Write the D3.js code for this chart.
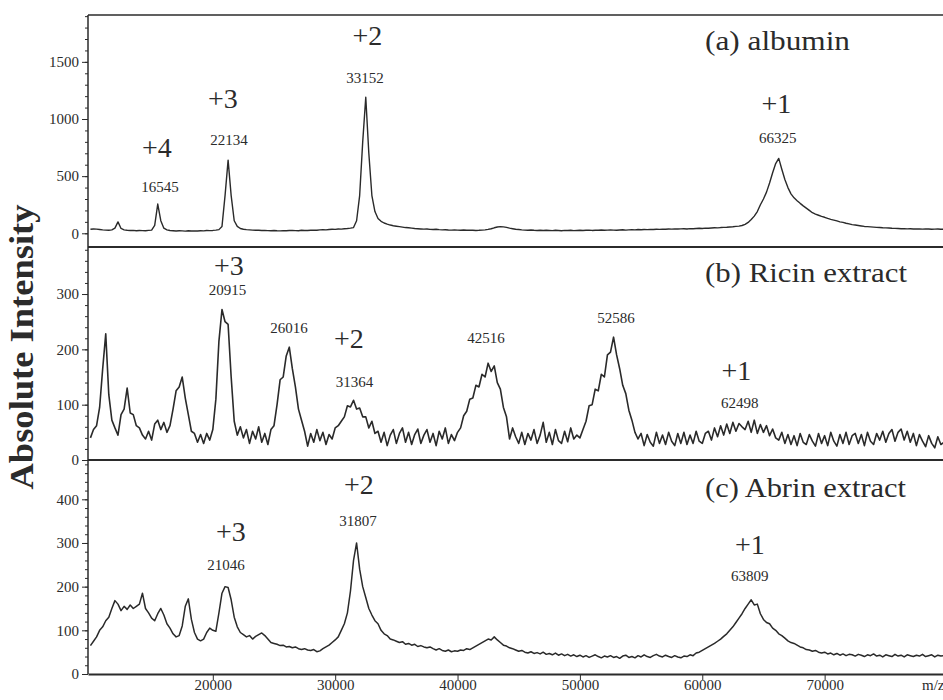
<!DOCTYPE html>
<html>
<head>
<meta charset="utf-8">
<script src="https://cdn.jsdelivr.net/npm/d3@7/dist/d3.min.js"></script>
<style>
  body { margin: 0; background: #fff; }
  svg { display: block; }
  text { font-family: "Liberation Serif", "Times New Roman", serif; fill: #2b2b2b; }
</style>
</head>
<body>
<svg id="chart"></svg>
<script>
// spectra sampled every 250 m/z starting at 10000
var mzStart = 10000, mzStep = 250;

var albumin = [
  35, 38, 36, 33, 30, 28, 27, 30, 45, 100,
  42, 30, 26, 24, 25, 22, 24, 23, 22, 25,
  28, 70, 256, 110, 45, 30, 24, 22, 20, 22,
  21, 19, 22, 20, 21, 20, 22, 21, 24, 23,
  25, 28, 32, 60, 330, 640, 330, 110, 60, 42,
  35, 32, 30, 28, 27, 26, 24, 25, 23, 22,
  24, 22, 21, 23, 22, 24, 25, 23, 22, 26,
  24, 25, 27, 28, 26, 30, 32, 30, 33, 35,
  34, 38, 36, 40, 42, 45, 50, 110, 330, 800,
  1190, 700, 330, 190, 130, 105, 90, 80, 72, 66,
  62, 58, 54, 50, 48, 45, 42, 40, 38, 36,
  37, 34, 33, 35, 32, 30, 31, 29, 28, 30,
  28, 27, 29, 26, 28, 27, 25, 26, 28, 30,
  34, 40, 48, 55, 58, 56, 52, 45, 40, 35,
  33, 30, 28, 27, 29, 26, 25, 27, 24, 26,
  25, 23, 26, 24, 22, 25, 24, 26, 23, 25,
  27, 24, 26, 28, 25, 27, 26, 29, 27, 28,
  30, 28, 27, 29, 31, 28, 30, 32, 30, 33,
  31, 33, 32, 34, 33, 35, 34, 36, 35, 37,
  36, 38, 37, 39, 40, 38, 41, 40, 42, 44,
  42, 45, 44, 46, 48, 47, 50, 52, 53, 55,
  57, 60, 63, 68, 78, 95, 120, 150, 190, 250,
  300, 360, 440, 530, 610, 655, 560, 470, 400, 345,
  310, 285, 262, 240, 220, 200, 180, 168, 158, 148,
  140, 130, 122, 115, 108, 100, 95, 88, 82, 76,
  72, 68, 64, 60, 58, 56, 54, 52, 50, 48,
  47, 46, 44, 43, 42, 40, 41, 39, 40, 38,
  37, 39, 36, 38, 37, 35, 36, 37, 35, 36
];

var ricin = [
  40, 55, 62, 95, 165, 228, 118, 72, 58, 45,
  82, 92, 130, 85, 82, 62, 58, 45, 38, 52,
  36, 65, 72, 55, 68, 50, 62, 92, 125, 132,
  150, 112, 82, 52, 48, 32, 46, 30, 48, 36,
  55, 110, 215, 272, 250, 245, 150, 70, 45, 60,
  40, 55, 30, 52, 38, 60, 32, 48, 28, 55,
  62, 100, 145, 150, 188, 204, 165, 132, 92, 72,
  52, 25, 48, 32, 55, 35, 50, 28, 46, 38,
  58, 62, 70, 78, 98, 96, 108, 92, 94, 78,
  78, 58, 70, 48, 52, 32, 50, 26, 45, 55,
  30, 48, 58, 32, 50, 28, 46, 56, 30, 45,
  55, 32, 48, 26, 52, 38, 58, 30, 46, 35,
  50, 58, 80, 88, 110, 112, 135, 132, 155, 150,
  175, 160, 170, 140, 128, 95, 78, 38, 58, 42,
  30, 50, 28, 48, 36, 55, 30, 45, 68, 32,
  50, 28, 55, 35, 30, 52, 33, 58, 38, 45,
  40, 55, 70, 98, 100, 128, 125, 155, 150, 190,
  195, 222, 190, 165, 135, 120, 90, 72, 50, 38,
  48, 26, 46, 32, 25, 50, 30, 45, 28, 50,
  34, 26, 48, 30, 50, 28, 45, 30, 52, 34,
  30, 48, 52, 36, 58, 42, 62, 45, 65, 48,
  68, 52, 66, 60, 55, 70, 50, 72, 48, 64,
  50, 62, 44, 56, 40, 36, 50, 30, 46, 28,
  44, 26, 48, 32, 28, 46, 34, 25, 48, 30,
  44, 26, 50, 34, 25, 46, 30, 50, 28, 44,
  48, 30, 46, 26, 50, 34, 28, 48, 36, 52,
  32, 48, 55, 34, 50, 56, 36, 52, 32, 48,
  26, 46, 34, 24, 44, 30, 22, 42, 28, 32
];

var abrin = [
  65, 75, 85, 100, 108, 122, 130, 150, 168, 160,
  145, 155, 148, 158, 150, 155, 160, 185, 150, 140,
  128, 122, 138, 150, 135, 115, 105, 92, 85, 88,
  110, 155, 172, 125, 95, 80, 76, 80, 95, 105,
  100, 98, 140, 185, 200, 198, 170, 130, 108, 95,
  90, 85, 88, 80, 86, 90, 94, 88, 80, 72,
  70, 68, 65, 66, 62, 63, 60, 62, 58, 56,
  58, 55, 54, 56, 51, 53, 58, 62, 66, 72,
  78, 85, 100, 115, 140, 190, 260, 300, 240, 200,
  175, 150, 135, 122, 115, 100, 92, 88, 80, 78,
  75, 72, 74, 68, 70, 66, 68, 63, 65, 62,
  60, 62, 58, 55, 58, 54, 52, 55, 51, 53,
  52, 55, 54, 58, 56, 60, 64, 68, 72, 76,
  80, 78, 85, 78, 72, 66, 64, 60, 58, 55,
  52, 54, 50, 48, 51, 47, 49, 46, 50, 45,
  47, 44, 48, 43, 46, 42, 45, 41, 44, 40,
  43, 39, 42, 38, 41, 44, 40, 37, 41, 39,
  42, 38, 40, 36, 41, 43, 38, 40, 37, 42,
  39, 44, 40, 38, 42, 45, 41, 39, 43, 40,
  38, 42, 39, 37, 41, 40, 44, 42, 48, 50,
  54, 58, 62, 66, 70, 75, 80, 86, 92, 100,
  108, 118, 128, 138, 150, 160, 170, 158, 160, 138,
  125, 118, 115, 105, 100, 92, 88, 82, 76, 72,
  70, 66, 62, 60, 56, 55, 52, 54, 50, 48,
  50, 46, 48, 44, 47, 43, 46, 42, 45, 44,
  41, 45, 43, 40, 44, 42, 46, 41, 43, 39,
  44, 42, 40, 45, 41, 43, 39, 44, 42, 40,
  43, 41, 45, 40, 42, 44, 39, 43, 41, 42
];

var xTicks = [20000, 30000, 40000, 50000, 60000, 70000];
var albuminTicks = [0, 500, 1000, 1500];
var ricinTicks = [0, 100, 200, 300];
var abrinTicks = [0, 100, 200, 300, 400];

// [label, m/z, intensity]
var albuminCharges = [["+4", 15437, 667], ["+3", 20830, 1096], ["+2", 32635, 1647], ["+1", 66060, 1052]];
var albuminMasses = [["16545", 15682, 361], ["22134", 21320, 772], ["33152", 32430, 1315], ["66325", 66170, 790]];
var ricinCharges = [["+3", 21320, 334], ["+2", 31120, 202], ["+1", 62790, 145]];
var ricinMasses = [["20915", 21200, 298], ["26016", 26220, 230], ["31364", 31570, 132],
                   ["42516", 42320, 212], ["52586", 52940, 248], ["62498", 63070, 94]];
var abrinCharges = [["+3", 21480, 304], ["+2", 31940, 412], ["+1", 63885, 274]];
var abrinMasses = [["21046", 21070, 239], ["31807", 31860, 338], ["63809", 63885, 212]];

var panelTitles = ["(a) albumin", "(b) Ricin extract", "(c) Abrin extract"];

var width = 943,
    height = 700,
    left = 88,
    right = 947,
    ink = "#2b2b2b",
    serif = "'Liberation Serif', 'Times New Roman', serif";

var svg = d3.select("#chart")
  .attr("width", width)
  .attr("height", height);

var x = d3.scaleLinear()
  .domain([9800, 80000])
  .range([left, right]);

var panels = [
  { values: albumin, ticks: albuminTicks, minor: 100, domain: [-120, 1910], range: [247, 15], stroke: 1.4,
    charges: albuminCharges, masses: albuminMasses, title: panelTitles[0], titleY: 50, titleLen: 145 },
  { values: ricin, ticks: ricinTicks, minor: 20, domain: [0, 385], range: [460, 247], stroke: 1.6,
    charges: ricinCharges, masses: ricinMasses, title: panelTitles[1], titleY: 282, titleLen: 202 },
  { values: abrin, ticks: abrinTicks, minor: 20, domain: [0, 490], range: [674, 460], stroke: 1.5,
    charges: abrinCharges, masses: abrinMasses, title: panelTitles[2], titleY: 497, titleLen: 201 }
];

panels.forEach(function (p) {
  var y = d3.scaleLinear()
    .domain(p.domain)
    .range(p.range);

  var g = svg.append("g");

  var minorAxis = g.append("g")
    .attr("transform", "translate(" + left + ",0)")
    .call(d3.axisLeft(y)
      .tickValues(d3.range(0, p.domain[1], p.minor))
      .tickSize(3)
      .tickSizeOuter(0)
      .tickFormat(""));
  minorAxis.select(".domain").remove();

  var majorAxis = g.append("g")
    .attr("transform", "translate(" + left + ",0)")
    .call(d3.axisLeft(y)
      .tickValues(p.ticks)
      .tickSize(6)
      .tickSizeOuter(0)
      .tickFormat(d3.format("d")));
  majorAxis.select(".domain").remove();

  g.selectAll(".tick line")
    .attr("stroke", ink);

  majorAxis.selectAll("text")
    .style("font-family", serif)
    .style("font-size", "15px")
    .attr("fill", ink);

  var line = d3.line()
    .x(function (d, i) { return x(mzStart + i * mzStep); })
    .y(function (d) { return y(d); });

  g.append("path")
    .attr("class", "spectrum")
    .attr("d", line(p.values))
    .attr("fill", "none")
    .attr("stroke", "#2a2a2a")
    .attr("stroke-width", p.stroke)
    .attr("stroke-linejoin", "round");

  g.selectAll(".charge")
    .data(p.charges)
    .enter()
    .append("text")
    .attr("class", "charge")
    .attr("x", function (d) { return x(d[1]); })
    .attr("y", function (d) { return y(d[2]); })
    .attr("text-anchor", "middle")
    .style("font-family", serif)
    .style("font-size", "28px")
    .text(function (d) { return d[0]; });

  g.selectAll(".mass")
    .data(p.masses)
    .enter()
    .append("text")
    .attr("class", "mass")
    .attr("x", function (d) { return x(d[1]); })
    .attr("y", function (d) { return y(d[2]); })
    .attr("text-anchor", "middle")
    .style("font-family", serif)
    .style("font-size", "15px")
    .text(function (d) { return d[0]; });

  g.append("text")
    .attr("x", 705)
    .attr("y", p.titleY)
    .attr("textLength", p.titleLen)
    .attr("lengthAdjust", "spacingAndGlyphs")
    .style("font-family", serif)
    .style("font-size", "27px")
    .text(p.title);
});

// frame lines between panels
[15, 247, 460].forEach(function (yy, i) {
  svg.append("line")
    .attr("x1", left)
    .attr("x2", right)
    .attr("y1", yy)
    .attr("y2", yy)
    .attr("stroke", ink)
    .attr("stroke-width", i === 0 ? 1.5 : 2);
});

svg.append("line")
  .attr("x1", left)
  .attr("x2", left)
  .attr("y1", 15)
  .attr("y2", 674)
  .attr("stroke", ink)
  .attr("stroke-width", 1.5);

var xAxis = svg.append("g")
  .attr("transform", "translate(0,674)")
  .call(d3.axisBottom(x)
    .tickValues(xTicks)
    .tickSize(6)
    .tickSizeOuter(0)
    .tickFormat(d3.format("d")));

xAxis.select(".domain")
  .attr("stroke", ink)
  .attr("stroke-width", 2);

xAxis.selectAll(".tick line")
  .attr("stroke", ink);

xAxis.selectAll("text")
  .attr("y", 5.5)
  .attr("fill", ink)
  .style("font-family", serif)
  .style("font-size", "15px");

svg.append("text")
  .attr("x", 922)
  .attr("y", 690)
  .style("font-family", serif)
  .style("font-size", "15px")
  .text("m/z");

svg.append("text")
  .attr("transform", "translate(33,347) rotate(-90)")
  .attr("text-anchor", "middle")
  .attr("textLength", 285)
  .attr("lengthAdjust", "spacingAndGlyphs")
  .style("font-family", serif)
  .style("font-size", "34px")
  .style("font-weight", "bold")
  .text("Absolute Intensity");
</script>
</body>
</html>
